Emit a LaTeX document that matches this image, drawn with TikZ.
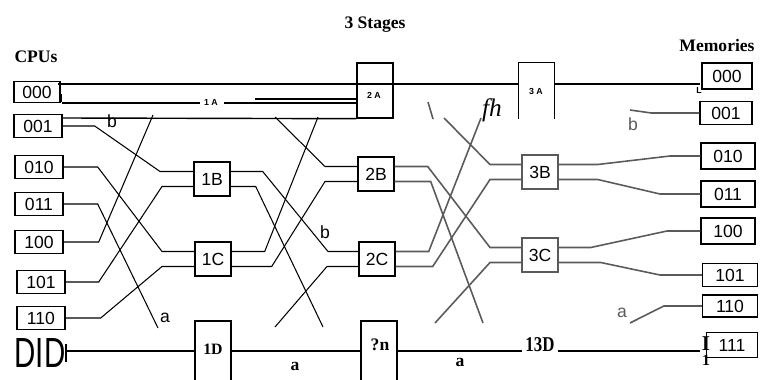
\documentclass[tikz,border=0pt]{standalone}
\usepackage{fontspec}
\setmainfont{Liberation Serif}
\setsansfont{Liberation Sans}
\definecolor{scanGray}{HTML}{5A5A5A}

\begin{document}
\begin{tikzpicture}[x=0.02cm,y=-0.02cm,font=\sffamily,
        unit/.style={draw,line width=0.8pt,minimum width=0.96cm,minimum height=0.46cm,inner sep=0pt},
        sw/.style={draw,line width=0.8pt,minimum width=0.72cm,minimum height=0.68cm,inner sep=0pt},
        bar/.style={draw,line width=0.8pt,minimum width=0.72cm,inner sep=0pt},
        wire/.style={line width=0.6pt},
        fade/.style={line width=0.9pt,scanGray},
        row/.style={line width=0.8pt},
        head/.style={font=\rmfamily\bfseries},
        tag/.style={font=\sffamily\bfseries\tiny,inner sep=1pt}]
        \useasboundingbox (0,0) rectangle (767,379);
        \node[head] (title) at (375,25) {3 Stages};
        \node[head] (cpus) at (36,57) {CPUs};
        \node[head] (mems) at (717,45) {Memories};

        \node[unit,minimum width=0.92cm,minimum height=0.42cm] (c000) at (37,92) {000};
        \node[unit] (c001) at (38,126) {001};
        \node[unit] (c010) at (39,167) {010};
        \node[unit] (c011) at (39,204) {011};
        \node[unit] (c100) at (39,242) {100};
        \node[unit] (c101) at (41,282) {101};
        \node[unit] (c110) at (41,318) {110};

        \node[unit,minimum width=1cm,minimum height=0.52cm] (m000) at (727,76) {000};
        \node[unit,minimum width=1.04cm] (m001) at (726,113) {001};
        \node[unit,minimum width=1.08cm,minimum height=0.52cm] (m010) at (728,156) {010};
        \node[unit,minimum width=1.08cm,minimum height=0.52cm] (m011) at (728,194) {011};
        \node[unit,minimum width=1.08cm,minimum height=0.52cm] (m100) at (728,231) {100};
        \node[unit,minimum width=1.1cm] (m101) at (730,275) {101};
        \node[unit,minimum width=1.1cm,minimum height=0.44cm] (m110) at (730,306) {110};
        \node[unit,minimum width=1.02cm,minimum height=0.5cm] (m111) at (732,345) {111};

        \node[sw] (s1B) at (212,179) {1B};
        \node[sw] (s1C) at (213,259) {1C};
        \node[sw] (s2B) at (376,174) {2B};
        \node[sw] (s2C) at (377,259) {2C};
        \node[sw,draw=scanGray] (s3B) at (540,172) {3B};
        \node[sw,draw=scanGray] (s3C) at (540,255) {3C};

        \node[bar,minimum height=1.1cm] (a2) at (375,90.5) {};
        \node[bar,draw=none,minimum width=0.7cm,minimum height=1.1cm] (a3) at (536.5,90.5) {};
        \draw[row] (a3.south west) |- (a3.north east) -- (a3.south east);
        \node[tag] at (374,95) {2 A};
        \node[tag] at (536,91) {3 A};
        \node[tag] at (211,102) {1 A};
        \node[tag] at (699,90) {L};

        \coordinate (astart) at (58,84);
        \coordinate (aend) at (700,84);
        \coordinate (alow) at (62,103);
        \draw[row] (astart) -- (astart -| a3.west);
        \draw[row] (astart -| a3.east) -- (aend);
        \draw[row] (alow) -- ++(138,0);
        \draw[row] (224,103) -- (alow -| a2.west);
        \draw[row] (255,99) -- (a2.west |- 0,99);
        \draw[row] (63,118) -- (a2.south west);
        \draw[wire] (59,95) -- (61,95) -- (61,102);

        \node[bar,minimum height=1.2cm] (d1) at (213,351) {};
        \node[bar,minimum height=1.2cm] (d2) at (379,351) {};
        \node[head,font=\rmfamily\bfseries\small] at (213,349) {1D};
        \node[head] at (380,345) {?n};
        \node[head,font=\rmfamily\bfseries\large,anchor=base,inner sep=0pt] (n13) at (540,351) {\scalebox{0.8}[1]{13D}};
        \coordinate (dstart) at (66,351);
        \coordinate (dend) at (700,351);
        \draw[row] (dstart) -- (d1.west);
        \draw[row] (d1.east) -- (d2.west);
        \draw[row] (d2.east) -- ([xshift=-2pt]n13.base west);
        \draw[row] ([xshift=2pt]n13.base east) -- (dend);
        \draw[row] (66,344) -- (66,362);
        \node[inner sep=0pt] (did) at (40,353) {\fontsize{24}{24}\selectfont\scalebox{0.7}[1]{DID}};
        \node[head,font=\rmfamily\bfseries\large] at (706,344) {I};
        \node[head,font=\rmfamily\bfseries\small] at (706,360) {1};
        \node[head] at (295,366) {a};
        \node[head] at (460,362) {a};

        \coordinate (t1) at (153,115);
        \coordinate (b1) at (158,328);
        \coordinate (t2) at (318,117);
        \coordinate (t3) at (275,117);
        \coordinate (b2) at (323,327);
        \coordinate (b3) at (275,327);
        \coordinate (t4) at (481,118);
        \coordinate (t5) at (444,118);
        \coordinate (b4) at (483,323);
        \coordinate (b5) at (435,323);
        \coordinate (t6) at (630,110);
        \coordinate (b6) at (630,323);

        \draw[wire] (c001.east) -- ++(32,0) -- (160,171.5) -- ([yshift=.15cm]s1B.west);
        \draw[wire] (c010.east) -- ++(34,0) -- (162,251.5) -- ([yshift=.15cm]s1C.west);
        \draw[wire] (c011.east) -- ++(34,0) -- (b1);
        \draw[wire] (c100.east) -- ++(35,0) -- (t1);
        \draw[wire] (c101.east) -- ++(33,0) -- (162,186.5) -- ([yshift=-.15cm]s1B.west);
        \draw[wire] (c110.east) -- ++(35,0) -- (162,266.5) -- ([yshift=-.15cm]s1C.west);

        \draw[wire] ([yshift=.15cm]s1B.east) -- ++(32,0) -- (328,251.5) -- ([yshift=.15cm]s2C.west);
        \draw[wire] ([yshift=-.15cm]s1B.east) -- ++(25,0) -- (b2);
        \draw[wire] ([yshift=.15cm]s1C.east) -- ++(33,0) -- (t2);
        \draw[wire] ([yshift=-.15cm]s1C.east) -- ++(40,0) -- (325,181.5) -- ([yshift=-.15cm]s2B.west);
        \draw[wire] (t3) -- (325,166.5) -- ([yshift=.15cm]s2B.west);
        \draw[wire] (b3) -- (327,266.5) -- ([yshift=-.15cm]s2C.west);

        \draw[fade] ([yshift=.15cm]s2B.east) -- ++(33,0) -- (490,247.5) -- ([yshift=.15cm]s3C.west);
        \draw[fade] ([yshift=-.15cm]s2B.east) -- ++(36,0) -- (b4);
        \draw[fade] ([yshift=.15cm]s2C.east) -- ++(33,0) -- (t4);
        \draw[fade] ([yshift=-.15cm]s2C.east) -- ++(37,0) -- (490,179.5) -- ([yshift=-.15cm]s3B.west);
        \draw[fade] (t5) -- (490,164.5) -- ([yshift=.15cm]s3B.west);
        \draw[fade] (b5) -- (490,262.5) -- ([yshift=-.15cm]s3C.west);
        \draw[fade] (428,102) -- (433,119);

        \draw[fade] ([yshift=.15cm]s3B.east) -- ++(39,0) -- (670,156) -- (m010.west);
        \draw[fade] ([yshift=-.15cm]s3B.east) -- ++(39,0) -- (660,194) -- (m011.west);
        \draw[fade] ([yshift=.15cm]s3C.east) -- ++(32,0) -- (667,231) -- (m100.west);
        \draw[fade] ([yshift=-.15cm]s3C.east) -- ++(42,0) -- (660,275) -- (m101.west);
        \draw[fade] (m110.west) -- ++(-38,0) -- (b6);
        \draw[fade] (m001.west) -- ++(-48,0) -- (t6);

        \node at (112,121) {b};
        \node at (325,232) {b};
        \node at (165,318) {a};
        \node[scanGray] at (622,313) {a};
        \node[scanGray] at (633,124) {b};
        \node[font=\rmfamily\itshape\Large] at (492,110) {fh};
      \end{tikzpicture}
\end{document}
